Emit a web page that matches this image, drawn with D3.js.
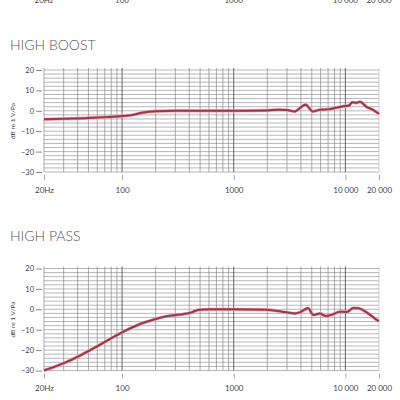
<!DOCTYPE html>
<html>
<head>
<meta charset="utf-8">
<script src="https://cdn.jsdelivr.net/npm/d3@7"></script>
<style>
  body { margin: 0; background: #fff; }
  svg { display: block; font-family: Lato, "Open Sans", sans-serif; }
</style>
</head>
<body>
<div id="chart"></div>
<script>
// tick labels
const freqTicks = [20, 100, 1000, 10000, 20000];
const freqLabels = ["20Hz", "100", "1000", "10 000", "20 000"];
const dbTicks = [20, 10, 0, -10, -20, -30];

// high boost response (Hz, dB)
const boostFreq = [20, 30, 50, 70, 100, 120, 150, 200, 300, 500, 1000, 2000, 2500, 3000, 3500, 4400, 5100, 5900, 7000, 8400, 9800, 10800, 11500, 12500, 13500, 15600, 17700, 19500, 20000];
const boostDb   = [-4.2, -3.9, -3.5, -3.1, -2.6, -2.2, -1.0, -0.2, 0, 0, 0, 0.2, 0.5, 0.4, -0.3, 3.0, -0.3, 0.5, 0.7, 1.6, 2.3, 2.6, 4.2, 3.9, 4.4, 1.8, 0.5, -1.1, -1.5];

// high pass response (Hz, dB)
const passFreq = [20, 32, 45, 63, 100, 145, 190, 250, 330, 420, 480, 600, 1000, 1970, 2980, 3530, 3900, 4640, 5170, 5900, 6700, 7700, 8900, 10300, 11800, 13000, 15600, 19500, 20000];
const passDb   = [-30, -25.8, -21.8, -17.4, -11.3, -7.2, -5.1, -3.4, -2.6, -1.5, -0.3, 0, 0, -0.2, -1.5, -2, -1.5, 0.5, -2.8, -2.1, -3.3, -2.5, -1.2, -1.3, 0.6, 0.5, -1.6, -5.5, -5.8];

const W = 400, H = 400;
const svg = d3.select("#chart").append("svg")
    .attr("width", W)
    .attr("height", H);

const x = d3.scaleLog()
    .domain([20, 20000])
    .range([44, 379]);

// vertical grid values: 20..90, 100..900, 1000..9000, 10000, 20000
const vGrid = [];
[10, 100, 1000].forEach(dec => {
    for (let k = 1; k < 10; k++) {
        const f = dec * k;
        if (f >= 20) vGrid.push(f);
    }
});
vGrid.push(10000, 20000);

const hGrid = d3.range(-30, 21, 2);

// bottom of a previous chart, cut off at the top
svg.append("g")
    .selectAll("text")
    .data(freqTicks)
    .join("text")
    .attr("x", d => x(d))
    .attr("y", 3)
    .attr("text-anchor", "middle")
    .attr("font-size", 8)
    .attr("fill", "#444")
    .text((d, i) => freqLabels[i]);

function drawChart(title, titleY, top, bottom, freq, db) {
    const y = d3.scaleLinear()
        .domain([-30, 20])
        .range([bottom, top]);

    svg.append("text")
        .attr("x", 10)
        .attr("y", titleY)
        .attr("font-size", 14)
        .attr("font-weight", 300)
        .attr("fill", "#555")
        .text(title);

    const g = svg.append("g");

    // horizontal grid
    g.append("g")
        .selectAll("line")
        .data(hGrid)
        .join("line")
        .attr("x1", x(20))
        .attr("x2", x(20000))
        .attr("y1", d => y(d))
        .attr("y2", d => y(d))
        .attr("stroke", "#999")
        .attr("stroke-width", 0.7);

    // vertical grid
    g.append("g")
        .selectAll("line")
        .data(vGrid)
        .join("line")
        .attr("x1", d => x(d))
        .attr("x2", d => x(d))
        .attr("y1", y(20) - 2)
        .attr("y2", y(-30))
        .attr("stroke", d => [100, 1000, 10000].includes(d) ? "#555" : (d === 20000 ? "#bbb" : "#888"))
        .attr("stroke-width", d => [100, 1000, 10000].includes(d) ? 0.9 : 0.7);

    // y axis
    g.append("g")
        .attr("transform", `translate(${x(20) - 2},0)`)
        .call(d3.axisLeft(y).tickValues(dbTicks).tickSize(6).tickPadding(2))
        .call(a => a.select(".domain").remove())
        .call(a => a.selectAll(".tick line").attr("stroke", "#888"))
        .call(a => a.selectAll(".tick text")
            .attr("font-size", 7.5)
            .attr("fill", "#444")
            .attr("font-family", "Lato, sans-serif"));

    g.append("text")
        .attr("transform", `translate(15,${(y(20) + y(-30)) / 2}) rotate(-90)`)
        .attr("text-anchor", "middle")
        .attr("font-size", 6.5)
        .attr("fill", "#444")
        .text("dB re 1 V/Pa");

    // x axis
    g.append("g")
        .attr("transform", `translate(0,${y(-30) + 3})`)
        .call(d3.axisBottom(x).tickValues(freqTicks).tickSize(5).tickPadding(7)
            .tickFormat((d, i) => freqLabels[i]))
        .call(a => a.select(".domain").remove())
        .call(a => a.selectAll(".tick line").attr("stroke", "#aaa"))
        .call(a => a.selectAll(".tick text")
            .attr("font-size", 8)
            .attr("fill", "#444")
            .attr("font-family", "Lato, sans-serif"));

    // response curve
    const pts = freq.map((f, i) => [f, db[i]]);
    const line = d3.line()
        .x(d => x(d[0]))
        .y(d => y(d[1]))
        .curve(d3.curveMonotoneX);

    g.append("path")
        .datum(pts)
        .attr("fill", "none")
        .attr("stroke", "#e8a0ad")
        .attr("stroke-width", 3.2)
        .attr("stroke-linejoin", "round")
        .attr("d", line);

    g.append("path")
        .datum(pts)
        .attr("fill", "none")
        .attr("stroke", "#a3324a")
        .attr("stroke-width", 2)
        .attr("stroke-linejoin", "round")
        .attr("d", line);
}

drawChart("HIGH BOOST", 50, 70, 172, boostFreq, boostDb);
drawChart("HIGH PASS", 241, 268.5, 370.5, passFreq, passDb);
</script>
</body>
</html>
